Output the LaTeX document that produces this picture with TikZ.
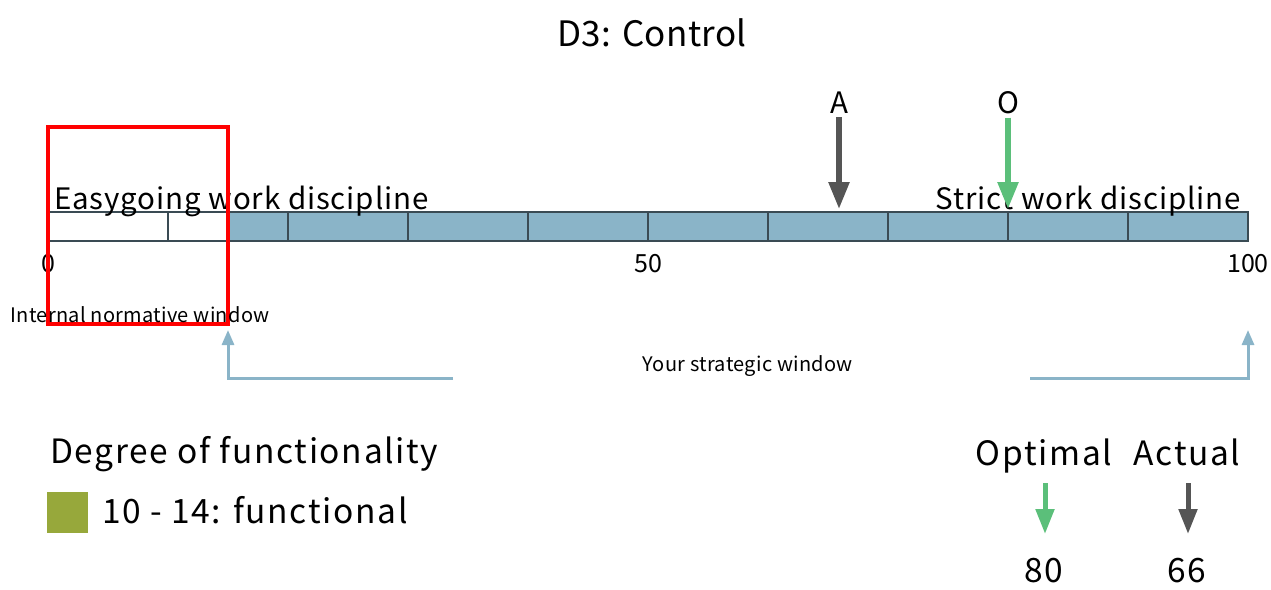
\documentclass[tikz,border=0pt]{standalone}
\usepackage{fontspec}
\setmainfont{Noto Sans CJK JP}
\usetikzlibrary{arrows.meta}
\definecolor{barblue}{HTML}{8AB4C8}
\definecolor{barline}{HTML}{3A4B54}
\definecolor{optgreen}{HTML}{5BBF7A}
\definecolor{actgray}{HTML}{555555}
\definecolor{funcgreen}{HTML}{97A83B}
\begin{document}
\begin{tikzpicture}[x=1pt,y=-1pt,
  cell/.style={draw=barline,line width=1.5pt},
  bigarrow/.style={line width=5.5pt,-{Triangle[width=20pt,length=27pt]}},
  smallarrow/.style={line width=5pt,-{Triangle[width=18pt,length=25pt]}},
  windowline/.style={draw=barblue,line width=3pt,-{Triangle[width=12pt,length=15pt]}},
  lbl/.style={anchor=base,inner sep=0pt},
  hugetxt/.style={lbl,font=\fontsize{35}{40}\selectfont\addfontfeature{LetterSpace=1}},
  bigtxt/.style={lbl,font=\fontsize{33.5}{38}\selectfont\addfontfeature{LetterSpace=5}},
  midtxt/.style={lbl,font=\fontsize{29.5}{34}\selectfont\addfontfeature{LetterSpace=3}},
  ticktxt/.style={lbl,font=\fontsize{25}{30}\selectfont},
  smalltxt/.style={lbl,font=\fontsize{20}{24}\selectfont\addfontfeature{LetterSpace=1.5}}]
\useasboundingbox (0,0) rectangle (1271,589);

% title
\node[hugetxt] (title) at (652,46) {D3: Control};

% scale bar
\foreach \a/\b/\c in {0/10/white,10/15/white,15/20/barblue,20/30/barblue,
  30/40/barblue,40/50/barblue,50/60/barblue,60/70/barblue,70/80/barblue,
  80/90/barblue,90/100/barblue}
  \draw[cell,fill=\c] ({48+12*\a},212) rectangle ({48+12*\b},241);
\foreach \v in {0,50,100}
  \node[ticktxt] (tick\v) at ({48+12*\v},272) {\v};

\node[midtxt,anchor=base west] (easy) at (54,209) {Easygoing work discipline};
\node[midtxt,anchor=base east] (strict) at (1241,209) {Strict work discipline};

% markers on the bar
\node[midtxt] (actmark) at (839,113) {A};
\node[midtxt] (optmark) at (1008,113) {O};
\coordinate (actpt) at (839,209);
\coordinate (optpt) at (1008,209);
\draw[bigarrow,actgray] ([yshift=-4pt]actmark.south) -- (actpt);
\draw[bigarrow,optgreen] ([yshift=-4pt]optmark.south) -- (optpt);

% windows
\draw[red,line width=4.5pt] (48,127) rectangle (228,324);
\node[smalltxt] (normwin) at (140,322) {Internal normative window};
\node[smalltxt] (stratwin) at (748,371) {Your strategic window};
\coordinate (winL) at (453,378);
\coordinate (winR) at (1030,378);
\coordinate (winLtop) at (228,330);
\coordinate (winRtop) at (1248,330);
\draw[windowline] (winL) -| (winLtop);
\draw[windowline] (winR) -| (winRtop);

% legend
\node[bigtxt,anchor=base west] (degree) at (50,463) {Degree of functionality};
\fill[funcgreen] (47,492) rectangle (88,533);
\node[bigtxt,anchor=base west] (functional) at (102,523) {10 - 14: functional};

\node[bigtxt] (optkey) at (1044,465) {Optimal};
\node[bigtxt] (actkey) at (1187,465) {Actual};
\node[bigtxt] (optval) at (1044,582) {80};
\node[bigtxt] (actval) at (1187,582) {66};
\coordinate (optfrom) at (1045,483);
\coordinate (optto) at (1045,534);
\coordinate (actfrom) at (1188,483);
\coordinate (actto) at (1188,534);
\draw[smallarrow,optgreen] (optfrom) -- (optto);
\draw[smallarrow,actgray] (actfrom) -- (actto);
\end{tikzpicture}
\end{document}
